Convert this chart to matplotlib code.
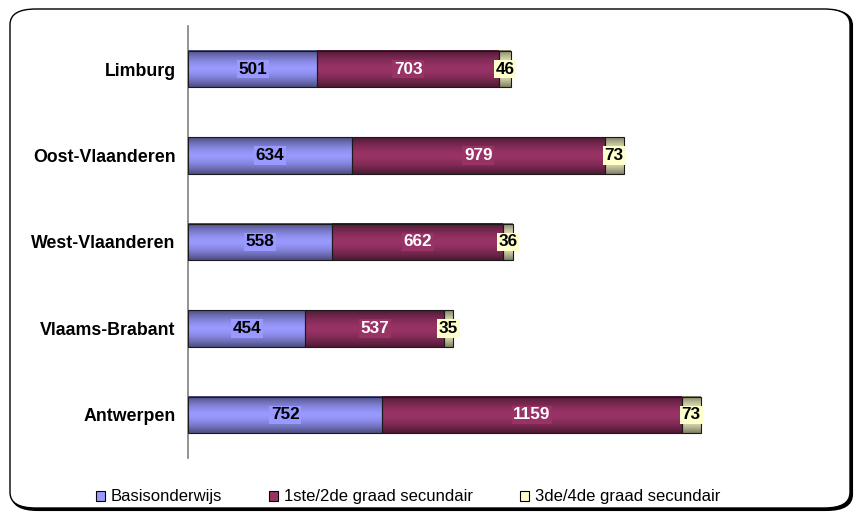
import numpy as np
import matplotlib.pyplot as plt
from matplotlib.patches import FancyBboxPatch
from matplotlib.colors import to_rgb

plt.rcParams["font.family"] = ["Liberation Sans", "DejaVu Sans"]

# Datos
regios = ["Antwerpen", "Vlaams-Brabant", "West-Vlaanderen", "Oost-Vlaanderen", "Limburg"]
basis = [752, 454, 558, 634, 501]
graad12 = [1159, 537, 662, 979, 703]
graad34 = [73, 35, 36, 73, 46]

reeksen = ["Basisonderwijs", "1ste/2de graad secundair", "3de/4de graad secundair"]
kleuren = ["#9999FF", "#993366", "#FFFFCC"]
tekstkleur = ["black", "white", "black"]

fig = plt.figure(figsize=(8.59, 5.17), dpi=100)

# Kader met schaduw
W, H = 859, 517
schaduw = FancyBboxPatch((12 / W, 7 / H), 840 / W, 500 / H,
                         boxstyle="round,pad=0,rounding_size=0.03",
                         transform=fig.transFigure, facecolor="black",
                         edgecolor="black", linewidth=1.5, zorder=-3)
kader = FancyBboxPatch((10 / W, 9 / H), 840 / W, 499 / H,
                       boxstyle="round,pad=0,rounding_size=0.03",
                       transform=fig.transFigure, facecolor="white",
                       edgecolor="black", linewidth=1.0, zorder=-2)
fig.patches.extend([schaduw, kader])

ax = fig.add_axes([188 / W, 1 - 458 / H, 646 / W, 432 / H])
ax.patch.set_alpha(0)

y = np.arange(len(regios))
hoogte = 0.42
links = np.zeros(len(regios))

for i, waarden in enumerate([basis, graad12, graad34]):
    bars = ax.barh(y, waarden, left=links, height=hoogte, color=kleuren[i],
                   edgecolor="#1a1a1a", linewidth=0.8, label=reeksen[i], zorder=3)
    # verloop (gradient) zoals Excel
    basis_rgb = np.array(to_rgb(kleuren[i]))
    t = np.linspace(-1, 1, 64)
    factor = 1 - 0.5 * np.abs(t) ** 1.6
    grad = (basis_rgb[None, :] * factor[:, None])[:, None, :]
    for b in bars:
        x0, y0 = b.get_x(), b.get_y()
        ax.imshow(grad, extent=(x0, x0 + b.get_width(), y0, y0 + b.get_height()),
                  aspect="auto", zorder=3.5, interpolation="bilinear")
        b.set_facecolor("none")
        b.set_zorder(4)
    for b, v in zip(bars, waarden):
        ax.text(b.get_x() + b.get_width() / 2, b.get_y() + b.get_height() / 2, str(v),
                ha="center", va="center", fontsize=12.3, fontweight="bold",
                color=tekstkleur[i], zorder=6,
                bbox=dict(boxstyle="square,pad=0.1", facecolor=kleuren[i], edgecolor="none"))
    links = links + np.array(waarden)

ax.set_xlim(0, 2500)
ax.set_ylim(-0.5, len(regios) - 0.5)
ax.set_yticks(y)
ax.set_yticklabels(regios, fontsize=12.8, fontweight="bold")
ax.tick_params(axis="y", length=0, pad=9)
ax.set_xticks([])
for s in ["top", "right", "bottom"]:
    ax.spines[s].set_visible(False)
ax.spines["left"].set_color("#808080")
ax.spines["left"].set_linewidth(1.2)

# Legenda
handles = [plt.Rectangle((0, 0), 1, 1, facecolor=k, edgecolor="black", linewidth=0.8) for k in kleuren]
fig.legend(handles, reeksen, loc="center", bbox_to_anchor=(0.475, 1 - 497 / H), ncol=3,
           frameon=False, fontsize=12, handlelength=0.55, handleheight=0.55,
           handletextpad=0.35, columnspacing=2.8)

plt.savefig("out.png", dpi=100)
